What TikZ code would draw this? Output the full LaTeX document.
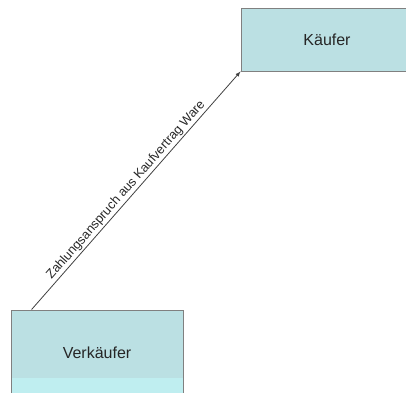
\documentclass[tikz,border=0pt]{standalone}
\usepackage{fontspec}
\setmainfont{Liberation Sans}
\usetikzlibrary{arrows}

\definecolor{boxfill}{RGB}{187,224,227}
\definecolor{boxband}{RGB}{191,238,240}
\definecolor{boxline}{RGB}{128,128,128}
\definecolor{claimline}{RGB}{64,64,64}

\begin{document}
\begin{tikzpicture}[
    x=1pt,y=-1pt,>=latex,
    party/.style={rectangle,draw=boxline,line width=0.9pt,fill=boxfill,
        minimum width=172pt,inner sep=0pt,
        font=\fontsize{16}{19}\selectfont,text=black!85},
    band/.style={path picture={\fill[boxband]
        (path picture bounding box.south west) rectangle
        ([yshift=18pt]path picture bounding box.south east);}},
    claim/.style={->,draw=claimline,line width=0.8pt},
    claimtext/.style={sloped,above,inner sep=1.5pt,
        font=\fontsize{12.8}{15}\selectfont,text=black!85}
  ]
    \useasboundingbox (0,0) rectangle (406,392);
    \clip (0,0) rectangle (406,392);

    \node [party,minimum height=63pt]     (kaeufer)    at (327,39.5) {Käufer};
    \node [party,band,minimum height=86pt] (verkaeufer) at (97,353)  {Verkäufer};

    \draw [claim] ([xshift=21pt]verkaeufer.north west) -- (kaeufer.south west)
        node [claimtext,pos=0.48] {Zahlungsanspruch aus Kaufvertrag Ware};
\end{tikzpicture}
\end{document}
